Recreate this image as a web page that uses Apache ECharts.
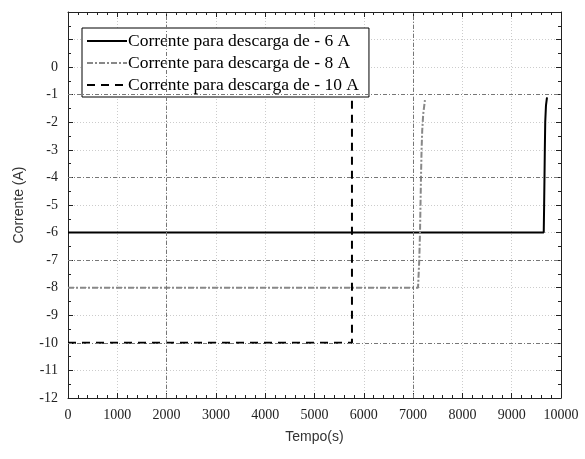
<!DOCTYPE html>
<html><head><meta charset="utf-8">
<script src="https://cdn.jsdelivr.net/npm/echarts@6/dist/echarts.min.js"></script>
<style>html,body{margin:0;padding:0;background:#fff}#c{width:585px;height:459px}</style>
</head><body><div id="c"></div>
<script>
const seriesNames = ['Corrente para descarga de - 6 A','Corrente para descarga de - 8 A','Corrente para descarga de - 10 A'];
const data6A = [[0,-6],[9650,-6],[9658,-5],[9665,-4],[9672,-3],[9680,-2],[9695,-1.4],[9716,-1.1]];
const data8A = [[0,-8],[7100,-8],[7125,-7],[7140,-6],[7150,-5],[7160,-4],[7172,-3],[7185,-2.3],[7205,-1.7],[7240,-1.2]];
const data10A = [[0,-10],[5760,-10],[5760,-1.1]];
const yTicks = [-12,-11,-10,-9,-8,-7,-6,-5,-4,-3,-2,-1,0];
const xTicks = [0,1000,2000,3000,4000,5000,6000,7000,8000,9000,10000];
const darkGridY = [-1,-4,-7,-10];
const darkGridX = [2000,7000];

const serif = 'Liberation Serif';
const sans = 'Liberation Sans';
const chart = echarts.init(document.getElementById('c'));
const axisCommon = {
  axisLine:{show:true,onZero:false,lineStyle:{color:'#222',width:1}},
  axisTick:{show:true,inside:true,length:5,lineStyle:{color:'#222'}},
  minorTick:{show:true,splitNumber:2,length:3,lineStyle:{color:'#222'}},
};
chart.setOption({
  animation:false,
  backgroundColor:'#fff',
  grid:{left:68,right:24,top:12,bottom:61},
  legend:{
    orient:'vertical',left:82,top:28,
    backgroundColor:'#fff',borderColor:'#000',borderWidth:1,
    padding:[4,10,3,4],itemGap:4,itemWidth:40,itemHeight:18,
    itemStyle:{opacity:0},
    textStyle:{fontFamily:serif,fontSize:17.5,color:'#000',padding:[0,0,0,-4]},
    data:seriesNames
  },
  xAxis:[{
    type:'value',min:0,max:10000,interval:1000,
    ...axisCommon,
    minorTick:{show:true,splitNumber:5,length:3,lineStyle:{color:'#222'}},
    axisLabel:{fontFamily:serif,fontSize:14,color:'#222',margin:10,
      formatter:v=>xTicks.includes(v)?String(v):''},
    splitLine:{show:true,lineStyle:{color:'#ccc',type:[1,2],width:1}},
    name:'Tempo(s)',nameLocation:'middle',nameGap:32,
    nameTextStyle:{fontFamily:sans,fontSize:14,color:'#333'}
  },{
    type:'value',min:0,max:10000,interval:1000,position:'top',
    ...axisCommon,
    minorTick:{show:true,splitNumber:5,length:3,lineStyle:{color:'#222'}},
    axisLabel:{show:false},splitLine:{show:false}
  }],
  yAxis:[{
    type:'value',min:-12,max:2,interval:1,
    ...axisCommon,
    axisLabel:{fontFamily:serif,fontSize:14,color:'#222',margin:10,
      formatter:v=>yTicks.includes(v)?String(v):''},
    splitLine:{show:true,lineStyle:{color:'#ccc',type:[1,2],width:1}},
    name:'Corrente (A)',nameLocation:'middle',nameGap:42,
    nameTextStyle:{fontFamily:sans,fontSize:14,color:'#333'}
  },{
    type:'value',min:-12,max:2,interval:1,position:'right',
    ...axisCommon,axisLabel:{show:false},splitLine:{show:false}
  }],
  series:[{
    name:seriesNames[0],type:'line',data:data6A,showSymbol:false,symbol:'none',
    lineStyle:{color:'#000',width:2},itemStyle:{color:'#000'},
    markLine:{silent:true,symbol:'none',label:{show:false},
      lineStyle:{color:'#777',type:[4,2,1,2],width:1},
      data:[...darkGridY.map(v=>({yAxis:v})),...darkGridX.map(v=>({xAxis:v}))]}
  },{
    name:seriesNames[1],type:'line',data:data8A,showSymbol:false,symbol:'none',
    lineStyle:{color:'#888',width:2,type:[6,2,2,2]},itemStyle:{color:'#888'}
  },{
    name:seriesNames[2],type:'line',data:data10A,showSymbol:false,symbol:'none',
    lineStyle:{color:'#000',width:2,type:[8,6]},itemStyle:{color:'#000'}
  }]
});
</script></body></html>
